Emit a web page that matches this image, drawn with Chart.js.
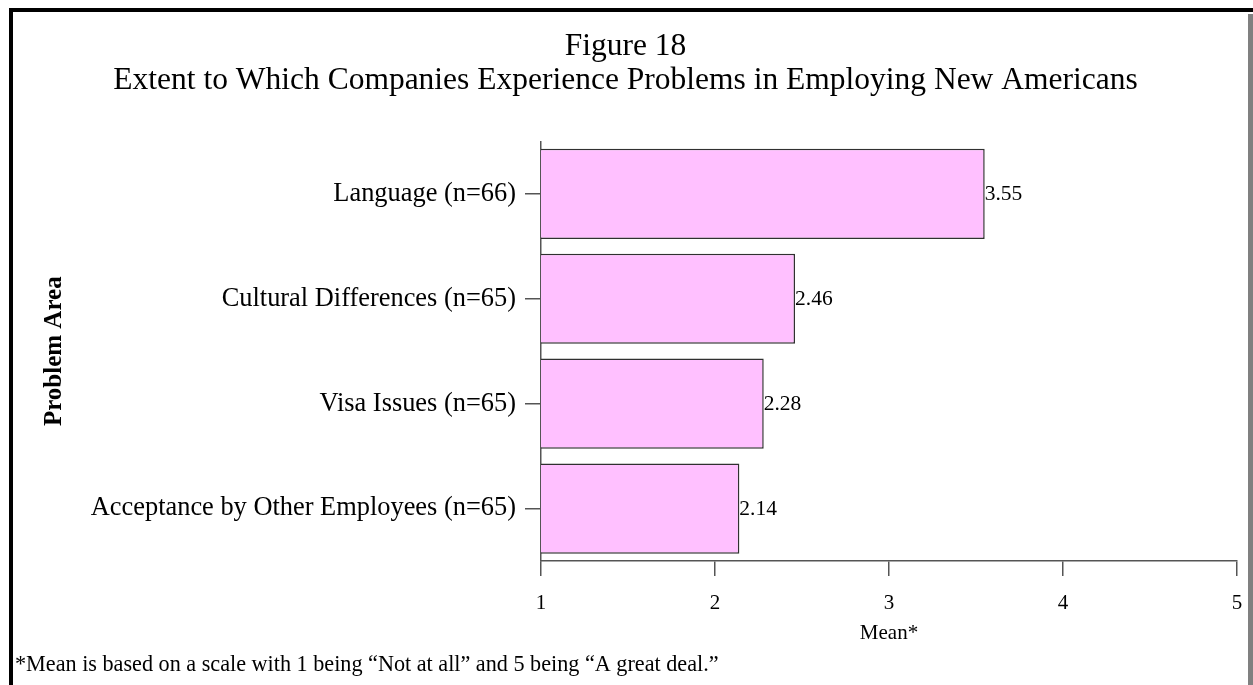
<!DOCTYPE html>
<html>
<head>
<meta charset="utf-8">
<script src="https://cdn.jsdelivr.net/npm/chart.js@4.4.1/dist/chart.umd.min.js"></script>
<style>
  html, body { margin: 0; padding: 0; background: #ffffff; overflow: hidden; }
  #wrap { position: relative; width: 1253px; height: 685px; }
  #chart { position: absolute; left: 0; top: 0; }
  .frame { position: absolute; left: 9px; top: 8px; width: 1300px; height: 700px;
           border-top: 4px solid #000; border-left: 4px solid #000; pointer-events: none; }
  .shade { position: absolute; left: 1248px; top: 14px; width: 5px; height: 700px; background: #808080; }
</style>
</head>
<body>
<div id="wrap">
  <canvas id="chart" width="1253" height="685"></canvas>
  <div class="frame"></div>
  <div class="shade"></div>
</div>
<script>
// Problem areas and their mean ratings (1 = "Not at all", 5 = "A great deal")
const categories = [
  'Language (n=66)',
  'Cultural Differences (n=65)',
  'Visa Issues (n=65)',
  'Acceptance by Other Employees (n=65)'
];
const means = [3.55, 2.46, 2.28, 2.14];
const scaleTicks = [1, 2, 3, 4, 5];

const titleLines = ['Figure 18', 'Extent to Which Companies Experience Problems in Employing New Americans'];
const footnote = '*Mean is based on a scale with 1 being \u201CNot at all\u201D and 5 being \u201CA great deal.\u201D';

const SERIF = '"Liberation Serif", "Times New Roman", serif';

// Writes each mean just past the end of its bar
const valueLabels = {
  id: 'valueLabels',
  afterDatasetsDraw(chart) {
    const ctx = chart.ctx;
    const meta = chart.getDatasetMeta(0);
    ctx.save();
    ctx.font = '21.5px ' + SERIF;
    ctx.fillStyle = '#000';
    ctx.textAlign = 'left';
    ctx.textBaseline = 'middle';
    meta.data.forEach((bar, i) => {
      ctx.fillText(means[i].toFixed(2), bar.x, bar.y + 1);
    });
    ctx.restore();
  }
};

// Footnote under the axis
const footnotePlugin = {
  id: 'footnote',
  afterDraw(chart) {
    const ctx = chart.ctx;
    ctx.save();
    ctx.font = '22.2px ' + SERIF;
    ctx.fillStyle = '#000';
    ctx.textAlign = 'left';
    ctx.textBaseline = 'middle';
    ctx.fillText(footnote, 15, 665);
    ctx.restore();
  }
};

new Chart(document.getElementById('chart'), {
  type: 'bar',
  data: {
    labels: categories,
    datasets: [{
      data: means,
      backgroundColor: '#FFC0FF',
      borderColor: '#303030',
      borderWidth: 1.5,
      borderSkipped: false,
      barPercentage: 0.86,
      categoryPercentage: 1.0
    }]
  },
  options: {
    indexAxis: 'y',
    responsive: false,
    animation: false,
    layout: { padding: { left: 14, right: 16, top: 14, bottom: 40 } },
    plugins: {
      legend: { display: false },
      tooltip: { enabled: false },
      title: {
        display: true,
        text: titleLines,
        color: '#000',
        font: { family: SERIF, size: 31.5, weight: 'normal', lineHeight: 1.07 },
        padding: { top: 16, bottom: 44 }
      }
    },
    scales: {
      x: {
        type: 'linear',
        min: 1,
        max: 5,
        afterBuildTicks(scale) { scale.ticks = scaleTicks.map(v => ({ value: v })); },
        afterFit(scale) {
          scale.height = 84;
          scale.paddingLeft = 0;
          scale.paddingRight = 0;
        },
        grid: { display: true, drawOnChartArea: false, tickLength: 15, color: '#555', lineWidth: 1.5 },
        border: { display: true, color: '#555', width: 1.5 },
        ticks: { color: '#000', padding: 15, font: { family: SERIF, size: 21 } },
        title: {
          display: true,
          text: 'Mean*',
          color: '#000',
          font: { family: SERIF, size: 21, weight: 'normal', lineHeight: 1.1 },
          padding: { top: 0, bottom: 0 }
        }
      },
      y: {
        afterFit(scale) { scale.width = 541 - 14; },
        grid: { display: true, drawOnChartArea: false, offset: false, tickLength: 16, color: '#555', lineWidth: 1.5 },
        border: { display: true, color: '#555', width: 1.5 },
        ticks: { color: '#000', padding: 9, font: { family: SERIF, size: 26.4 } },
        title: {
          display: true,
          text: 'Problem Area',
          color: '#000',
          font: { family: SERIF, size: 25, weight: 'bold', lineHeight: 1.2 },
          padding: { top: 26, bottom: 0 }
        }
      }
    }
  },
  plugins: [valueLabels, footnotePlugin]
});
</script>
</body>
</html>
